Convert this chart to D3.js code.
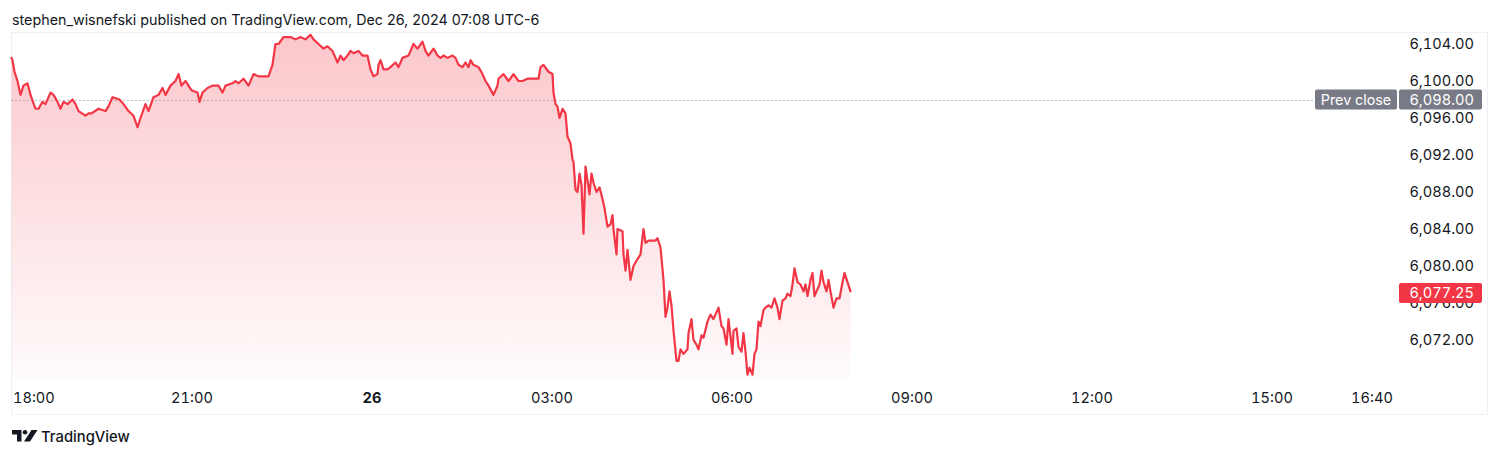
<!DOCTYPE html>
<html>
<head>
<meta charset="utf-8">
<script src="https://cdn.jsdelivr.net/npm/d3@7"></script>
<style>
  html, body { margin: 0; padding: 0; background: #ffffff; }
  svg { display: block; font-family: Inter, "Noto Sans", Roboto, sans-serif; font-variant-numeric: tabular-nums; }
  .plain { font-variant-numeric: normal; }
</style>
</head>
<body>
<svg id="chart" width="1500" height="457"></svg>
<script>
// ---- Data (minutes after Dec 25 18:00, price) ----
const minutes = [0,1,3,6,9,12,16,19,24,27,31,34,39,42,46,49,52,56,61,64,67,74,77,80,87,94,97,101,108,112,117,122,126,129,134,137,142,147,151,154,159,164,167,170,174,177,180,186,188,191,196,201,207,211,214,221,224,227,232,237,242,247,257,261,264,267,272,
276,279,284,289,294,299,302,307,312,316,321,324,326,329,332,336,339,342,347,351,356,359,362,366,367,369,372,376,379,384,387,391,397,402,406,411,414,417,422,426,429,432,436,441,444,447,451,454,457,459,462,467,471,474,477,482,486,487,492,497,502,507,511,516,522,527,
529,532,537,541,542,544,546,548,551,554,556,559,561,562,564,566,568,570,572,574,576,578,580,582,585,588,591,593,596,599,601,602,605,606,611,612,614,616,619,622,626,629,632,634,637,641,644,646,649,652,654,656,658,660,662,665,667,669,672,676,677,680,682,685,687,690,692,696,699,702,707,710,712,715,717,721,722,725,727,730,732,734,736,738,741,743,745,747,749,752,754,757,760,763,766,768,771,774,776,779,781,783,786,789,792,794,796,799,801,803,806,808,810,812,815,817,819,822,825,828,831,833,836,839];
const prices = [6102.5,6102.25,6101.0,6100.0,6098.5,6099.5,6099.75,6098.5,6097.0,6097.0,6097.75,6097.5,6098.75,6098.5,6097.75,6097.0,6097.75,6097.5,6098.0,6097.5,6096.75,6096.25,6096.5,6096.5,6097.0,6096.75,6097.25,6098.25,6098.0,6097.5,6096.75,6096.25,6095.0,6096.0,6097.5,6096.75,6098.25,6098.5,6099.25,6098.5,6099.5,6100.0,6100.75,6099.5,6100.0,6099.5,6099.0,6098.75,6097.75,6098.75,6099.25,6099.5,6099.5,6098.75,6099.5,6099.75,6100.0,6099.75,6100.25,6099.5,6100.75,6100.5,6100.5,6101.75,6104.0,6104.0,6104.75,
6104.75,6104.75,6104.5,6104.75,6104.5,6105.0,6104.5,6104.0,6103.5,6103.75,6103.25,6102.5,6102.0,6102.75,6102.25,6102.75,6103.25,6103.0,6103.25,6102.75,6102.75,6101.25,6100.5,6100.75,6101.75,6102.25,6101.25,6101.25,6101.5,6102.0,6101.5,6102.5,6102.75,6104.0,6103.5,6104.25,6103.25,6102.75,6103.5,6102.75,6102.5,6102.75,6102.5,6102.75,6102.5,6101.75,6101.5,6102.0,6101.5,6102.25,6101.75,6101.5,6100.75,6100.0,6099.5,6098.5,6099.5,6100.25,6100.75,6100.0,6100.75,6100.0,6100.0,6100.25,6100.25,6100.25,
6101.5,6101.75,6101.0,6100.75,6098.75,6097.5,6097.25,6096.0,6097.0,6096.5,6094.0,6093.25,6091.5,6091.25,6088.25,6088.0,6090.0,6088.75,6083.5,6090.75,6089.25,6087.75,6090.0,6089.0,6088.0,6088.5,6087.25,6086.25,6084.25,6084.5,6085.5,6084.0,6081.25,6084.0,6083.75,6081.25,6079.5,6081.75,6078.5,6080.0,6080.75,6081.25,6084.0,6082.5,6082.75,6082.75,6082.75,6083.0,6082.0,6078.5,6074.5,6075.5,6077.25,6075.75,6073.0,6069.75,6069.75,6071.0,6070.5,6071.0,6072.75,6074.25,6072.0,6071.5,6071.0,6072.5,6072.25,6074.0,6074.75,6074.25,6075.5,6073.5,6073.25,6071.5,6074.25,6070.5,6073.0,6073.25,6071.25,6070.75,6072.75,6070.75,6068.25,6069.0,6068.25,6070.5,6071.0,6074.0,6073.5,6075.25,6075.5,6075.75,6075.5,6076.5,6075.5,6074.25,6076.25,6076.5,6077.0,6076.75,6078.0,6079.75,6078.25,6078.0,6077.25,6078.0,6076.75,6078.5,6079.25,6076.75,6077.5,6078.0,6079.5,6078.25,6077.25,6078.5,6077.25,6075.5,6076.5,6076.5,6078.25,6079.25,6078.25,6077.25];

const priceTicks = [6072, 6076, 6080, 6084, 6088, 6092, 6096, 6100, 6104];
const timeTickMinutes = [0, 180, 360, 540, 720, 900, 1080, 1260, 1360];
const timeTickLabels = ["18:00", "21:00", "26", "03:00", "06:00", "09:00", "12:00", "15:00", "16:40"];
const prevClose = 6098.00;
const lastPrice = 6077.25;
const headerText = "stephen_wisnefski published on TradingView.com, Dec 26, 2024 07:08 UTC-6";

// ---- Setup ----
const svg = d3.select("#chart");
const RED = "#F23645", GRAY = "#787B86", TEXT = "#131722";
const FONT = "Inter, 'Noto Sans', sans-serif";
const t0 = new Date(2024, 11, 25, 18, 0);
const toDate = m => new Date(t0.getTime() + m * 60000);

const pane = { left: 11.5, right: 1400, top: 32.5, bottom: 379 };
const x = d3.scaleTime()
  .domain([t0, toDate(pane.right - pane.left)])
  .range([pane.left, pane.right]);
const y = d3.scaleLinear().domain([6072, 6104]).range([340, 44]);

const data = minutes.map((m, i) => ({ t: toDate(m), v: prices[i] }));

// Header
svg.append("text").attr("class", "plain").attr("x", 12).attr("y", 24.5)
  .attr("font-size", 14.3).attr("fill", TEXT).text(headerText);

// Outer frame
svg.append("rect").attr("x", 11.5).attr("y", 32.5).attr("width", 1476).attr("height", 382)
  .attr("fill", "none").attr("stroke", "#EEF0F4").attr("stroke-width", 1);

// Gradient fill
const defs = svg.append("defs");
const grad = defs.append("linearGradient").attr("id", "fillGrad")
  .attr("gradientUnits", "userSpaceOnUse")
  .attr("x1", 0).attr("x2", 0).attr("y1", 34).attr("y2", pane.bottom);
grad.append("stop").attr("offset", 0).attr("stop-color", RED).attr("stop-opacity", 0.28);
grad.append("stop").attr("offset", 1).attr("stop-color", RED).attr("stop-opacity", 0.02);

const area = d3.area().x(d => x(d.t)).y0(pane.bottom).y1(d => y(d.v));
svg.append("path").datum(data).attr("d", area).attr("fill", "url(#fillGrad)");

// Prev close dotted line
svg.append("line")
  .attr("x1", pane.left).attr("x2", 1315)
  .attr("y1", Math.round(y(prevClose)) + 0.5).attr("y2", Math.round(y(prevClose)) + 0.5)
  .attr("stroke", GRAY).attr("stroke-width", 1).attr("stroke-dasharray", "1,3");

// Price line
const line = d3.line().x(d => x(d.t)).y(d => y(d.v));
svg.append("path").datum(data).attr("d", line)
  .attr("fill", "none").attr("stroke", RED).attr("stroke-width", 2.2)
  .attr("stroke-linejoin", "round").attr("stroke-linecap", "round");

// Price axis
const yAxis = d3.axisRight(y).tickValues(priceTicks).tickSize(0).tickFormat(d3.format(",.2f"));
const ya = svg.append("g").attr("transform", "translate(1474,0)").call(yAxis);
ya.select(".domain").remove();
ya.selectAll("text").attr("x", 0).attr("text-anchor", "end")
  .attr("font-family", FONT).attr("font-size", 14.6).attr("fill", TEXT);

// Time axis
const xAxis = d3.axisBottom(x)
  .tickValues(timeTickMinutes.map(toDate))
  .tickSize(0)
  .tickFormat((d, i) => timeTickLabels[i]);
const xa = svg.append("g").attr("transform", "translate(0,390)").call(xAxis);
xa.select(".domain").remove();
xa.selectAll("text")
  .attr("font-family", FONT).attr("font-size", 14.6).attr("fill", TEXT)
  .attr("font-weight", (d, i) => timeTickLabels[i] === "26" ? 700 : 400)
  .each(function (d, i) {
    if (i === 0) d3.select(this).attr("text-anchor", "start").attr("x", 12.5 - x(d));
  });

// Prev close labels
const pcY = y(prevClose);
svg.append("rect").attr("x", 1315).attr("y", pcY - 10).attr("width", 82).attr("height", 20)
  .attr("rx", 2).attr("fill", GRAY);
svg.append("text").attr("x", 1356).attr("y", pcY).attr("dy", "0.35em")
  .attr("text-anchor", "middle").attr("font-size", 14.3).attr("fill", "#ffffff").text("Prev close");
svg.append("rect").attr("x", 1399).attr("y", pcY - 10).attr("width", 83).attr("height", 20)
  .attr("rx", 2).attr("fill", GRAY);
svg.append("text").attr("x", 1474).attr("y", pcY).attr("dy", "0.35em")
  .attr("text-anchor", "end").attr("font-size", 14.6).attr("fill", "#ffffff").text(d3.format(",.2f")(prevClose));

// Last price label
const lpY = y(lastPrice) + 1.5;
svg.append("rect").attr("x", 1399).attr("y", lpY - 10).attr("width", 83).attr("height", 20)
  .attr("rx", 2).attr("fill", RED);
svg.append("text").attr("x", 1474).attr("y", lpY).attr("dy", "0.35em")
  .attr("text-anchor", "end").attr("font-size", 14.6).attr("fill", "#ffffff").text(d3.format(",.2f")(lastPrice));

// TradingView logo
const logo = svg.append("g").attr("transform", "translate(12,430)").attr("fill", TEXT);
logo.append("path").attr("d", "M0,0 H9.5 V11.5 H5 V4.5 H0 Z");
logo.append("circle").attr("cx", 13).attr("cy", 2.3).attr("r", 2.3);
logo.append("path").attr("d", "M19.5,0 H25.5 L18,11.5 H12 Z");
svg.append("text").attr("class", "plain").attr("x", 41).attr("y", 442).attr("font-size", 14.8)
  .attr("font-weight", 500).attr("fill", TEXT).text("TradingView");
</script>
</body>
</html>
